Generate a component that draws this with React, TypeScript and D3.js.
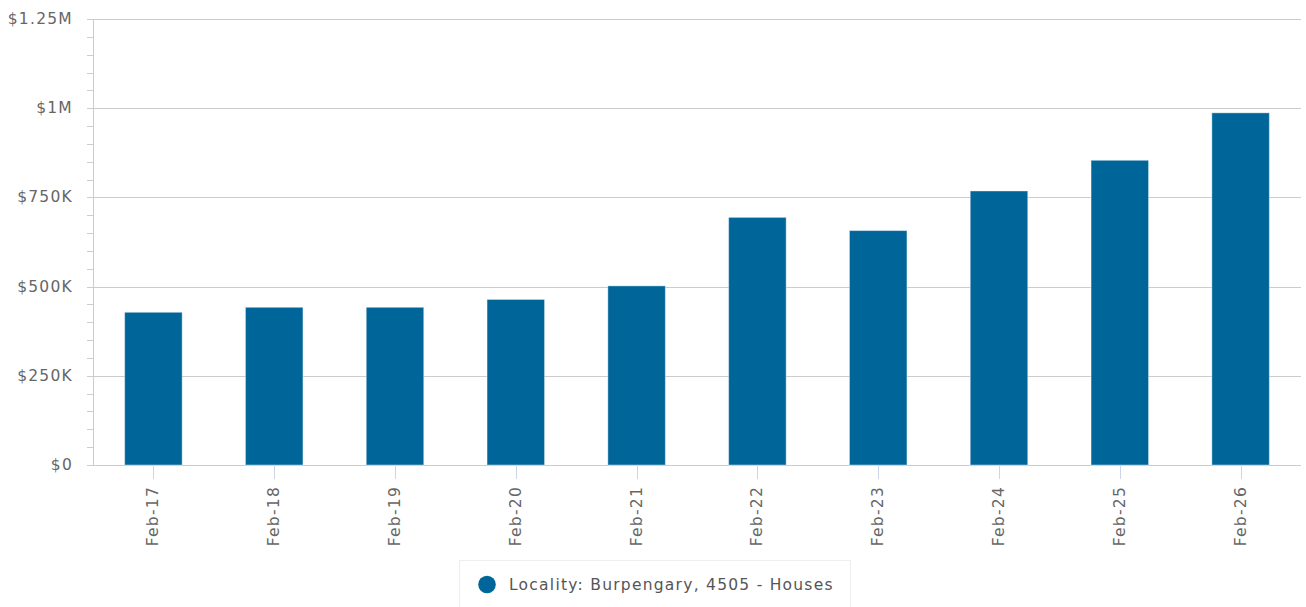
import React from "react";
import * as d3 from "d3";

const categories = ["Feb-17", "Feb-18", "Feb-19", "Feb-20", "Feb-21", "Feb-22", "Feb-23", "Feb-24", "Feb-25", "Feb-26"];
const values = [428000, 442000, 442000, 464000, 502000, 694000, 657000, 768000, 854000, 987000];
const yTicks = [0, 250000, 500000, 750000, 1000000, 1250000];
const yTickLabels = ["$0", "$250K", "$500K", "$750K", "$1M", "$1.25M"];
const seriesName = "Locality: Burpengary, 4505 - Houses";

const W = 1306;
const H = 607;
const left = 93;
const right = 1301;
const top = 19;
const bottom = 465;
const font = "'DejaVu Sans', sans-serif";
const fontSize = 15.5;
const ls = 1.25;

export default function App() {
  const x = d3.scaleBand<string>().domain(categories).range([left, right]).paddingInner(0.524).paddingOuter(0.262);
  const y = d3.scaleLinear().domain([0, 1250000]).range([bottom, top]);
  const minor = d3.range(0, 1250001, 50000).filter((v) => v % 250000 !== 0);

  return (
    <svg width={W} height={H} style={{ position: "absolute", left: 0, top: 0, background: "#fff" }} fontFamily={font}>
      {yTicks.map((t, i) => (
        <g key={"g" + t}>
          <line x1={left - 6} x2={right} y1={Math.round(y(t)) + 0.5} y2={Math.round(y(t)) + 0.5} stroke="#cccccc" strokeWidth={1} />
          <text x={73} y={y(t) + 5} textAnchor="end" fontSize={fontSize} fill="#666666" letterSpacing={ls}>
            {yTickLabels[i]}
          </text>
        </g>
      ))}
      {minor.map((t) => (
        <line key={"m" + t} x1={left - 6} x2={left} y1={Math.round(y(t)) + 0.5} y2={Math.round(y(t)) + 0.5} stroke="#cccccc" strokeWidth={1} />
      ))}
      <line x1={left + 0.5} x2={left + 0.5} y1={top} y2={bottom} stroke="#cccccc" strokeWidth={1} />
      {categories.map((c, i) => (
        <rect
          key={c}
          x={x(c)}
          y={y(values[i])}
          width={x.bandwidth()}
          height={bottom - y(values[i])}
          fill="#006699"
          stroke="#ffffff"
          strokeOpacity={0.4}
          strokeWidth={1}
        />
      ))}
      {categories.map((c) => {
        const cx = (x(c) as number) + x.bandwidth() / 2;
        return (
          <g key={"x" + c}>
            <line x1={Math.round(cx) + 0.5} x2={Math.round(cx) + 0.5} y1={bottom + 1} y2={bottom + 14} stroke="#ccd6eb" strokeWidth={1} />
            <text
              transform={`translate(${cx + 5},${486}) rotate(-90)`}
              textAnchor="end"
              fontSize={fontSize}
              fill="#666666"
              letterSpacing={ls}
            >
              {c}
            </text>
          </g>
        );
      })}
      <rect x={459.5} y={560.5} width={391} height={60} fill="#ffffff" stroke="#eeeeee" strokeWidth={1} />
      <circle cx={487} cy={584.5} r={8.8} fill="#006699" />
      <text x={509} y={589.5} fontSize={fontSize} fill="#555555" letterSpacing={ls}>
        {seriesName}
      </text>
    </svg>
  );
}
